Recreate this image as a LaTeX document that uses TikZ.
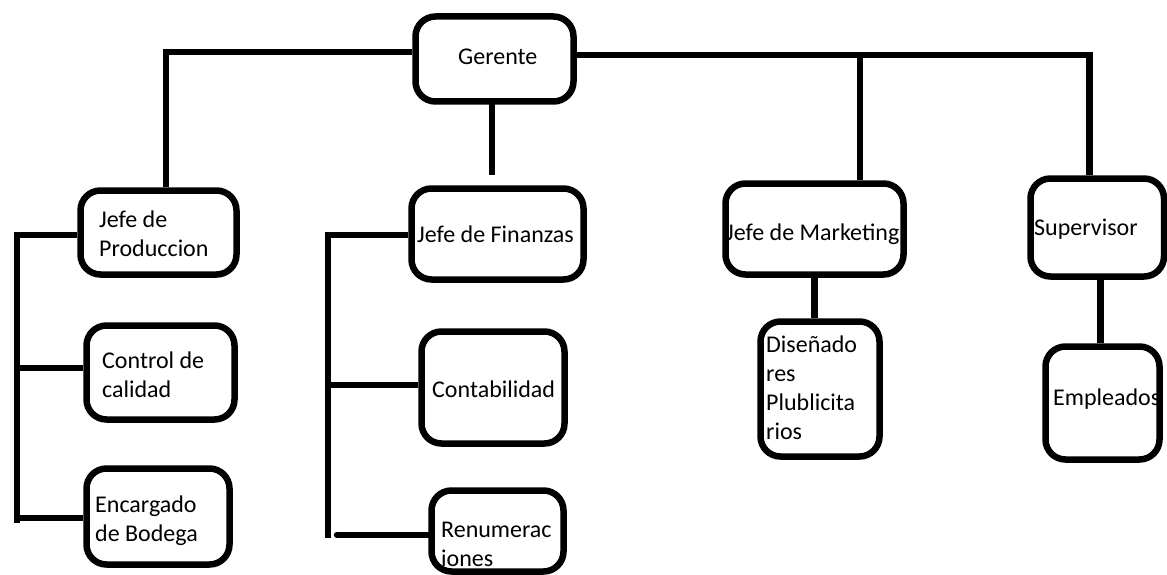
\documentclass[tikz,border=0pt]{standalone}
\usepackage{fontspec}
\setmainfont{Carlito}
\newcommand\stk[1]{\vtop{\halign{##\hfil\cr#1\crcr}}}
\begin{document}
\begin{tikzpicture}[x=1pt,y=-1pt,
  box/.style={draw=black, line width=6.5pt, rounded corners=20pt, inner sep=0pt},
  conn/.style={draw=black, line width=6.5pt},
  lbl/.style={anchor=base west, inner sep=0pt, text=black,
    font=\fontsize{24}{29}\selectfont}]
\useasboundingbox (0,0) rectangle (1167,575);
% boxes
\node[box, minimum width=158pt, minimum height=85pt] (ger) at (494.5,59) {};
\node[box, minimum width=156pt, minimum height=84pt] (prod) at (158.5,232.5) {};
\node[box, minimum width=148pt, minimum height=94pt] (ctrl) at (160.5,372.5) {};
\node[box, minimum width=143pt, minimum height=96pt] (enc) at (158,516.5) {};
\node[box, minimum width=172pt, minimum height=91pt] (fin) at (497.5,234) {};
\node[box, minimum width=143pt, minimum height=112pt] (cont) at (493,387.5) {};
\node[box, minimum width=132pt, minimum height=81pt] (ren) at (497.5,531) {};
\node[box, minimum width=178pt, minimum height=91pt] (mkt) at (814.5,229) {};
\node[box, minimum width=119pt, minimum height=135pt] (dis) at (820,389) {};
\node[box, minimum width=133.5pt, minimum height=98pt] (sup) at (1097.25,227.5) {};
\node[box, minimum width=114pt, minimum height=113pt] (emp) at (1102.5,403) {};
% helper coordinates
\coordinate (mj) at (860,55);
\coordinate (gb) at (492,101);
\coordinate (lbus) at (17,232);
\coordinate (lbusb) at (17,523);
\coordinate (fbus) at (328,232);
\coordinate (fbusb) at (328,538);
\coordinate (rstart) at (337,535);
% connectors
\draw[conn] ([yshift=7pt]ger.west) -| ([xshift=7.5pt]prod.north);
\draw[conn] (gb) -- ([yshift=10pt]gb |- fin.north);
\draw[conn] ([yshift=4pt]ger.east) -| ([xshift=-8pt]sup.north);
\draw[conn] (mj) -- (mj |- mkt.north);
\draw[conn] (lbus) -- (lbusb);
\draw[conn] ([yshift=-2.5pt]prod.west) -- ([yshift=-2.5pt]prod.west -| lbus);
\draw[conn] ([yshift=4.5pt]ctrl.west) -- ([yshift=4.5pt]ctrl.west -| lbus);
\draw[conn] ([yshift=-1.5pt]enc.west) -- ([yshift=-1.5pt]enc.west -| lbus);
\draw[conn] (fbus) -- (fbusb);
\draw[conn] ([yshift=-1pt]fin.west) -- ([yshift=-1pt]fin.west -| fbus);
\draw[conn] ([yshift=2.5pt]cont.west) -- ([yshift=2.5pt]cont.west -| fbus);
\draw[conn, line cap=round] (rstart) -- (rstart -| ren.west);
\draw[conn] (mkt.south) -- (mkt.south |- dis.north);
\draw[conn] ([xshift=3pt]sup.south) -- ([xshift=3pt]sup.south |- emp.north);
% labels
\node[lbl] (tger) at (458,65) {Gerente};
\node[lbl] (tprod) at (99,227) {\stk{Jefe de\cr Produccion}};
\node[lbl] (tctrl) at (102,368) {\stk{Control de\cr calidad}};
\node[lbl] (tenc) at (95,512) {\stk{Encargado\cr de Bodega}};
\node[lbl] (tfin) at (417,242) {Jefe de Finanzas};
\node[lbl] (tcont) at (432,397) {Contabilidad};
\node[lbl] (tren) at (441,537) {\stk{Renumerac\cr iones}};
\node[lbl] (tmkt) at (726,240) {Jefe de Marketing};
\node[lbl] (tdis) at (766,352) {\stk{Diseñado\cr res\cr Plublicita\cr rios}};
\node[lbl] (tsup) at (1034,235) {Supervisor};
\node[lbl] (temp) at (1053,405) {Empleados};
\end{tikzpicture}
\end{document}
